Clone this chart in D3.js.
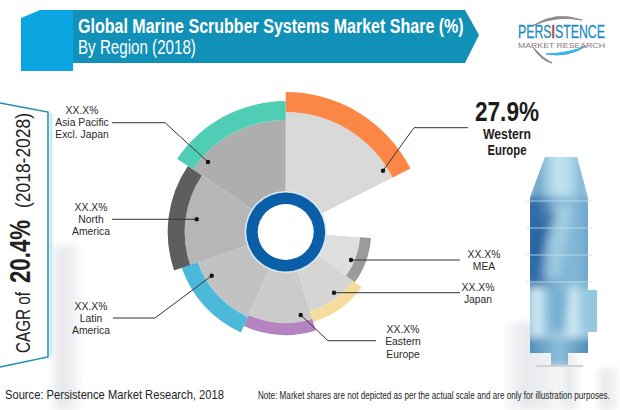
<!DOCTYPE html>
<html>
<head>
<meta charset="utf-8">
<script src="https://cdn.jsdelivr.net/npm/d3@7"></script>
<style>
  html, body { margin: 0; padding: 0; background: #fff; }
  svg { display: block; }
  text { font-family: "Liberation Sans", Roboto, sans-serif; }
</style>
</head>
<body>
<div id="main"></div>
<script>
// Values. Sweeps are degrees, clockwise from 12 o'clock.
// The chart says itself that it is not to scale, so sweeps and levels are not the shares.
const regions = ["Western Europe", "(gap)", "MEA", "Japan", "Eastern Europe", "Latin America", "North America", "Asia Pacific Excl. Japan"];
const sliceSweeps = [63, 31, 32, 37, 41, 47, 53, 56];
const outerLevels = [140, 0, 85.5, 94, 103, 110, 118, 131];
const bandDepths = [20, 0, 11, 11, 12, 17, 17, 19];
const shareLabels = ["27.9%", "", "XX.X%", "XX.X%", "XX.X%", "XX.X%", "XX.X%", "XX.X%"];

const sliceColors = ["#d9d9d9", "none", "#dedede", "#d5d5d5", "#cbcbcb", "#c2c2c2", "#b6b6b6", "#aeaeae"];
const bandColors = ["#fb8646", "none", "#9b9b9b", "#f3dc9c", "#b583bf", "#4cb8da", "#5e5e5e", "#50cdb5"];

const ctx = { w: 620, h: 410 };
const center = { x: 285.7, y: 232 };

const svg = d3.select("#main").append("svg")
  .attr("width", ctx.w)
  .attr("height", ctx.h);

const defs = svg.append("defs");

function addGradient(id, stops) {
  const g = defs.append("linearGradient").attr("id", id)
    .attr("x1", 0).attr("y1", 0)
    .attr("x2", 1).attr("y2", 0);
  stops.forEach(s => g.append("stop").attr("offset", s[0]).attr("stop-color", s[1]).attr("stop-opacity", s[2] === undefined ? 1 : s[2]));
}

addGradient("building", [[0, "#e4e6e8", 0.2], [0.35, "#e6e9ec"], [0.8, "#f0f2f4"], [1, "#f6f7f8", 0.3]]);
addGradient("body", [[0, "#2f6ea6"], [0.2, "#2f6aa6"], [0.45, "#6fa9cf"], [0.7, "#86b9d8"], [1, "#5d9cc6"]]);
addGradient("neck", [[0, "#4a8fbf"], [0.45, "#c4e6f0"], [0.7, "#b4dcea"], [1, "#5f9fc8"]]);
addGradient("lower", [[0, "#5a9dc8"], [0.22, "#dff3f8"], [0.42, "#7fb6d6"], [0.6, "#8fc1da"], [0.78, "#dcf1f7"], [1, "#6fabcf"]]);
addGradient("sump", [[0, "#3d80b0"], [0.5, "#8fc0da"], [1, "#3d80b0"]]);
defs.append("filter").attr("id", "soft").append("feGaussianBlur").attr("stdDeviation", 0.8);
defs.append("filter").attr("id", "streak").append("feGaussianBlur").attr("stdDeviation", 4);
defs.append("filter").attr("id", "softer").append("feGaussianBlur").attr("stdDeviation", 3);
defs.append("clipPath").attr("id", "towerClip").append("path")
  .attr("d", "M545 157H577L588 197V290H597V332H588V353H568V365H551V353H530V197Z");

// faint buildings behind everything
const bg = svg.append("g").attr("filter", "url(#softer)");
[[50, 245, 32, 165], [505, 322, 60, 88], [560, 352, 20, 58], [596, 368, 24, 42]].forEach(r => {
  bg.append("rect").attr("x", r[0]).attr("y", r[1]).attr("width", r[2]).attr("height", r[3]).attr("fill", "url(#building)");
});

// header
svg.append("path").attr("d", "M21 18L40 10H73V71H21Z").attr("fill", "#0ba6e2");
svg.append("path").attr("d", "M73 10H465L479 35L465 63H73Z").attr("fill", "#1190b8");

// squeezes the text to the measured width, the fonts here have no narrow cut
function fitText(parent, str, x, y, size, weight, color, width, anchor) {
  const t = parent.append("text")
    .attr("text-anchor", anchor || "start")
    .attr("font-size", size)
    .attr("font-weight", weight)
    .attr("fill", color)
    .text(str);
  const sx = width / t.node().getComputedTextLength();
  t.attr("transform", `translate(${x},${y}) scale(${sx},1)`);
  return t;
}

fitText(svg, "Global Marine Scrubber Systems Market Share (%)", 78, 33, 21, "bold", "#fff", 386);
fitText(svg, "By Region (2018)", 78, 54, 20, "normal", "#fff", 118);

// logo
const logo = svg.append("g");
logo.append("path").attr("d", "M534 25Q556 11 582 20Q558 15 534 25Z").attr("fill", "#8b8b8b").attr("stroke", "#8b8b8b");
logo.append("path").attr("d", "M533 47Q540 60 552 63Q542 58 533 47Z").attr("fill", "#8b8b8b").attr("stroke", "#8b8b8b");
logo.append("path").attr("d", "M546 54Q568 58 586 46Q570 53 546 54Z").attr("fill", "#35b4e4").attr("stroke", "#35b4e4");
const logoName = logo.append("text").attr("font-size", 18).attr("fill", "#1b8dc4")
  .attr("stroke", "#1b8dc4").attr("stroke-width", 0.3);
logoName.append("tspan").text("PERS");
logoName.append("tspan").attr("fill", "#c8403c").attr("stroke", "#c8403c").attr("font-weight", "bold").text("I");
logoName.append("tspan").text("STENCE");
logoName.attr("transform", `translate(518,38) scale(${87 / logoName.node().getComputedTextLength()},1)`);
fitText(logo, "MARKET RESEARCH", 518, 48, 8, "normal", "#86767a", 87);

// CAGR panel
svg.append("path").attr("d", "M0 103L48 112V357L0 367").attr("fill", "#fff").attr("stroke", "#1f8ea6").attr("stroke-width", 1.5);
svg.append("line").attr("x1", 51).attr("x2", 51).attr("y1", 113).attr("y2", 356).attr("stroke", "#c9ecf3").attr("stroke-width", 3);

const cagr = svg.append("g").attr("transform", "translate(30,353) rotate(-90)");
fitText(cagr, "CAGR of", 0, 0, 21, "normal", "#222", 61);
fitText(cagr, "20.4%", 70, 0, 29, "bold", "#222", 63);
fitText(cagr, "(2018-2028)", 145, 0, 21, "normal", "#222", 95);

// the chart itself
const pie = d3.pie().sort(null).value(d => d);
const arcs = pie(sliceSweeps);
const radius = d3.scaleLinear().domain([0, 140]).range([0, 140]);
const arc = d3.arc();
const holeLevel = 39.5;

const chart = svg.append("g").attr("transform", `translate(${center.x},${center.y})`);

chart.selectAll("path.slice")
  .data(arcs.filter((d, i) => outerLevels[i] > 0))
  .enter().append("path")
  .attr("class", "slice")
  .attr("fill", d => sliceColors[d.index])
  .attr("d", d => arc({
    innerRadius: radius(holeLevel),
    outerRadius: radius(outerLevels[d.index] - bandDepths[d.index]),
    startAngle: d.startAngle,
    endAngle: d.endAngle
  }));

chart.selectAll("path.band")
  .data(arcs.filter((d, i) => outerLevels[i] > 0))
  .enter().append("path")
  .attr("class", "band")
  .attr("fill", d => bandColors[d.index])
  .attr("d", d => arc({
    innerRadius: radius(outerLevels[d.index] - bandDepths[d.index]),
    outerRadius: radius(outerLevels[d.index]),
    startAngle: d.startAngle,
    endAngle: d.endAngle
  }));

chart.append("circle").attr("r", 41).attr("fill", "#dcebf3");
chart.append("circle").attr("r", 39.5).attr("fill", "#0b5fa9");
chart.append("circle").attr("r", 28).attr("fill", "#fff");

// leader lines, dot first, then elbow and end
const leaders = [
  [[383, 170.7], [414, 127.7], [468, 127.7]],
  [[351, 260], [460, 260]],
  [[334, 292.7], [460, 292.7]],
  [[300.7, 315], [328, 340.7], [376, 340.7]],
  [[211.7, 275.7], [155, 318], [113, 318]],
  [[196.7, 219.3], [112, 219.3]],
  [[208, 162], [165, 122.7], [112, 122.7]]
];
const lineGen = d3.line();
leaders.forEach(pts => {
  svg.append("path").attr("d", lineGen(pts)).attr("fill", "none").attr("stroke", "#333").attr("stroke-width", 1);
  svg.append("circle").attr("cx", pts[0][0]).attr("cy", pts[0][1]).attr("r", 2.2).attr("fill", "#111");
});

// region labels: share value then the name lines
const labelRows = [
  { i: 2, x: 484, ys: [258, 270], names: ["MEA"] },
  { i: 3, x: 478, ys: [291, 303], names: ["Japan"] },
  { i: 4, x: 403, ys: [333, 345, 358], names: ["Eastern", "Europe"] },
  { i: 5, x: 91, ys: [310, 322, 334], names: ["Latin", "America"] },
  { i: 6, x: 91, ys: [211, 223, 235], names: ["North", "America"] },
  { i: 7, x: 82, ys: [114, 126, 138], names: ["Asia Pacific", "Excl. Japan"] }
];

function label(str, x, y) {
  svg.append("text")
    .attr("transform", `translate(${x},${y}) scale(0.9,1)`)
    .attr("text-anchor", "middle")
    .attr("font-size", 11.5)
    .attr("fill", "#2a2a2a")
    .text(str);
}

labelRows.forEach(r => {
  label(shareLabels[r.i], r.x, r.ys[0]);
  r.names.forEach((n, k) => label(n, r.x, r.ys[k + 1]));
});

fitText(svg, shareLabels[0], 507, 121, 27, "bold", "#1c1c1c", 64, "middle");
fitText(svg, "Western", 507, 139, 14.5, "bold", "#1c1c1c", 48, "middle");
fitText(svg, "Europe", 507, 155, 14.5, "bold", "#1c1c1c", 39, "middle");

// scrubber tower, all blurred inside its outline
const tower = svg.append("g").attr("clip-path", "url(#towerClip)").append("g").attr("filter", "url(#streak)");
tower.append("path").attr("d", "M530 150H588V200H530Z").attr("fill", "url(#neck)");
tower.append("rect").attr("x", 522).attr("y", 197).attr("width", 74).attr("height", 90).attr("fill", "url(#body)");
tower.append("rect").attr("x", 522).attr("y", 287).attr("width", 66).attr("height", 48).attr("fill", "url(#lower)");
tower.append("rect").attr("x", 522).attr("y", 337).attr("width", 74).attr("height", 30).attr("fill", "url(#sump)");
tower.append("rect").attr("x", 584).attr("y", 285).attr("width", 22).attr("height", 50).attr("fill", "#93c8df");
tower.append("path").attr("d", "M548 205L572 205L560 280L544 280Z").attr("fill", "#c3e3ef").attr("opacity", 0.55);
tower.append("path").attr("d", "M530 245L550 205L556 215L538 268Z").attr("fill", "#1f5a98").attr("opacity", 0.6);
tower.append("path").attr("d", "M549 290H570L564 332H556Z").attr("fill", "#6fa9cd").attr("opacity", 0.75);

svg.append("rect").attr("x", 536).attr("y", 365).attr("width", 47).attr("height", 2).attr("fill", "#cfd3d4");
[201, 228, 255, 282].forEach(y => {
  svg.append("line").attr("x1", 526).attr("x2", 592).attr("y1", y).attr("y2", y)
    .attr("stroke", "#c6e0ec").attr("stroke-width", 1.2).attr("opacity", 0.8);
});

// footer
fitText(svg, "Source: Persistence Market Research, 2018", 5, 399, 13, "normal", "#222", 219);
fitText(svg, "Note: Market shares are not depicted as per the actual scale and are only for illustration purposes.", 258, 399, 10.5, "normal", "#222", 352);
</script>
</body>
</html>
